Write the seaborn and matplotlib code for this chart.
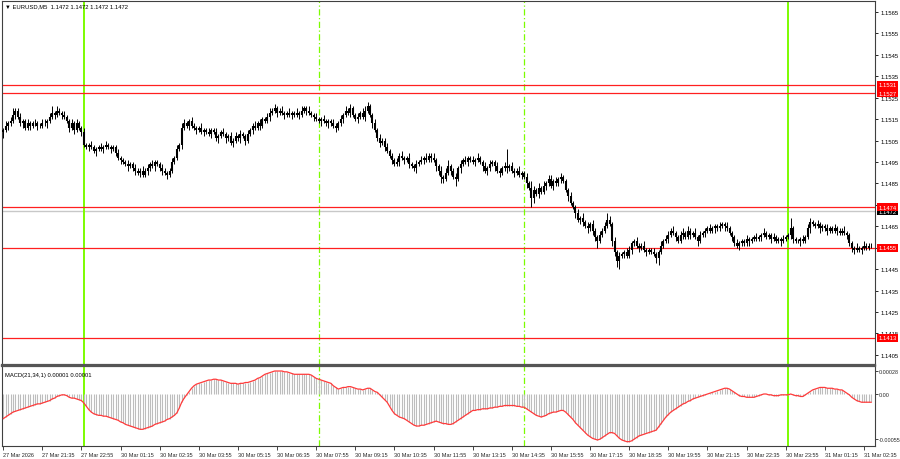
import numpy as np
import pandas as pd
import seaborn as sns
import matplotlib.pyplot as plt

# EURUSD M5 closes, in pips above 1.1400 (bar 0 = 27 Mar 20:15)
first_open = 109
closes = [
    110, 112, 113, 114, 117, 119, 116, 113, 114, 111, 113, 112, 113, 113, 112, 112, 113, 113, 114, 116,
    118, 117, 119, 118, 117, 116, 114, 111, 113, 110, 113, 111, 109,
    103, 102, 103, 102, 100, 101, 102, 101, 102, 103, 102, 101, 102,
    99, 97, 96, 95, 94, 93, 94, 92, 91, 90, 91,
    89, 91, 92, 94, 93, 95, 94, 92, 91, 90, 89, 91,
    95, 97, 101, 103,
    111, 113, 112, 114, 112, 111, 110, 111, 109, 110, 109, 108, 110, 109, 106, 107, 109, 108, 106, 107,
    104, 105, 107, 106, 108, 107, 105, 108,
    110, 112, 111, 113, 112, 115, 114, 116, 118,
    119, 120, 118, 119, 118, 117, 118, 117, 118, 117, 118, 117, 119, 120, 119, 118,
    117, 116, 115, 114, 115, 114, 113, 114, 113, 112, 111,
    113, 115, 117, 119, 118, 120, 117, 115, 116, 118, 116, 119, 121,
    117, 113, 110, 106, 104, 105, 102, 100, 98, 96, 94,
    95, 98, 97, 96, 97, 94, 93, 92, 94, 95, 96, 97, 96, 98, 97, 96, 93, 91,
    88, 87, 90, 93, 91, 88, 87,
    92, 94, 96, 95, 97, 96, 95, 96, 97, 95, 93, 91, 92, 94, 95, 93, 91, 90, 92, 93, 92,
    93, 91, 90, 91, 89, 90, 88,
    85, 83, 78, 82, 80, 83, 81, 84,
    85, 87, 84, 86, 85, 87, 88, 86,
    82, 79, 76, 74, 71, 68, 69,
    67, 65, 64, 66, 63, 60, 58, 61,
    63, 65, 68, 66,
    58, 53, 49, 51,
    52, 53, 51, 54, 57, 58, 56, 55, 56, 54, 53, 54, 53, 52, 50, 53,
    56, 58, 59, 61, 63, 62, 60, 58, 61, 62, 60, 63, 61, 62, 60, 58, 61,
    62, 63, 64, 63, 64, 65, 64, 65, 66, 65, 64, 62,
    60, 57, 56, 57,
    58, 57, 59, 58, 59, 60, 59, 60, 61, 62, 60, 61, 59, 60, 58, 59, 58, 59, 60, 61,
    64, 59, 58, 58, 59, 58, 60,
    64, 67, 66,
    65, 66, 64, 65, 64, 63, 64, 63, 64, 63, 62, 63, 62, 61,
    57, 55, 54, 55, 54, 55, 56, 55, 56, 56,
]
# upper / lower wick lengths in pips
wick_up = [
    1, 2, 1, 2, 3, 1, 1, 2, 1, 1, 2, 1, 1, 2, 1, 1, 2, 2, 1, 2,
    3, 1, 2, 1, 1, 2, 1, 1, 2, 1, 2, 1, 1, 2, 1, 1, 2, 1, 1, 1,
    2, 1, 2, 1, 1, 1, 1, 2, 1, 1, 1, 2, 1, 1, 2, 1, 1, 2, 1, 2,
    1, 2, 1, 1, 1, 2, 1, 1, 1, 2, 1, 2, 1, 2, 2, 1, 1, 2, 1, 1,
    1, 2, 1, 1, 2, 1, 1, 2, 1, 1, 2, 1, 1, 2, 1, 2, 1, 2, 1, 1,
    2, 1, 1, 2, 1, 2, 1, 1, 2, 2, 1, 2, 1, 1, 2, 1, 1, 2, 1, 1,
    2, 1, 2, 1, 1, 2, 1, 1, 2, 1, 1, 2, 1, 1, 1, 2, 1, 1, 2, 1,
    2, 1, 2, 1, 1, 2, 1, 2, 2, 2, 1, 1, 2, 1, 2, 1, 1, 2, 1, 1,
    1, 2, 1, 2, 1, 1, 2, 1, 1, 2, 1, 2, 1, 2, 1, 1, 2, 1, 1, 2,
    1, 2, 3, 1, 1, 2, 1, 2, 1, 2, 1, 1, 2, 1, 2, 1, 1, 2, 1, 2,
    1, 1, 2, 1, 1, 2, 8, 1, 2, 1, 1, 2, 1, 1, 2, 1, 3, 2, 1, 2,
    1, 2, 1, 2, 2, 1, 2, 1, 2, 1, 1, 1, 2, 1, 1, 2, 1, 2, 1, 2,
    1, 2, 1, 1, 2, 1, 2, 3, 2, 1, 2, 1, 2, 1, 1, 2, 2, 1, 1, 2,
    1, 1, 2, 1, 1, 1, 2, 1, 1, 2, 1, 2, 2, 1, 2, 1, 1, 2, 2, 1,
    2, 1, 1, 2, 1, 2, 1, 1, 1, 2, 1, 1, 1, 2, 1, 1, 2, 1, 1, 1,
    2, 1, 1, 1, 2, 1, 1, 1, 2, 1, 1, 2, 1, 1, 1, 2, 1, 1, 1, 2,
    1, 1, 5, 1, 1, 1, 1, 2, 1, 2, 2, 1, 1, 2, 1, 1, 1, 2, 1, 1,
    2, 1, 1, 1, 2, 1, 1, 1, 1, 2, 1, 1, 2, 1, 1, 1,
]
wick_dn = [
    3, 1, 2, 1, 1, 2, 1, 1, 2, 1, 1, 2, 1, 1, 2, 1, 1, 1, 2, 1,
    1, 2, 1, 1, 2, 1, 1, 2, 1, 2, 1, 1, 2, 1, 1, 2, 1, 1, 2, 1,
    1, 2, 1, 1, 2, 1, 1, 1, 2, 1, 1, 2, 1, 1, 2, 1, 2, 1, 1, 2,
    1, 1, 2, 1, 1, 2, 1, 2, 1, 1, 1, 1, 1, 2, 1, 1, 2, 1, 1, 2,
    1, 1, 2, 1, 1, 2, 1, 1, 2, 1, 1, 2, 1, 1, 2, 1, 1, 2, 1, 2,
    1, 1, 2, 1, 1, 2, 1, 1, 1, 2, 1, 1, 2, 1, 1, 2, 1, 1, 2, 1,
    1, 2, 1, 1, 2, 1, 1, 2, 1, 1, 2, 1, 1, 2, 1, 1, 2, 1, 1, 2,
    1, 1, 2, 1, 1, 2, 1, 1, 2, 1, 1, 2, 1, 1, 2, 1, 2, 1, 1, 2,
    1, 1, 2, 1, 2, 1, 2, 1, 1, 2, 1, 1, 2, 1, 1, 2, 1, 2, 2, 3,
    2, 1, 1, 2, 1, 3, 1, 2, 1, 1, 2, 1, 1, 2, 1, 1, 2, 1, 2, 1,
    1, 2, 1, 2, 1, 1, 2, 1, 1, 2, 1, 1, 2, 1, 2, 1, 4, 2, 1, 2,
    1, 1, 2, 1, 1, 2, 1, 1, 2, 1, 1, 2, 1, 1, 2, 1, 2, 2, 1, 2,
    1, 2, 2, 3, 1, 1, 1, 1, 1, 2, 2, 3, 4, 1, 2, 1, 1, 2, 1, 1,
    2, 1, 1, 2, 1, 1, 1, 2, 3, 1, 1, 1, 2, 1, 1, 2, 1, 1, 2, 1,
    1, 2, 1, 1, 2, 1, 1, 2, 1, 1, 1, 2, 1, 1, 1, 2, 1, 1, 2, 1,
    1, 2, 1, 1, 1, 2, 1, 1, 1, 1, 2, 1, 1, 1, 2, 1, 1, 1, 2, 1,
    1, 1, 2, 2, 1, 1, 2, 1, 1, 1, 2, 1, 1, 1, 2, 1, 1, 2, 1, 1,
    1, 2, 1, 1, 1, 2, 1, 2, 2, 1, 1, 2, 1, 1, 1, 1,
]
# MACD(21,34,1) main value per bar, in units of 0.00001
macd_vals = [
    -30, -28, -26, -24, -22, -21, -20, -19, -18, -17, -16, -15, -14, -13, -12, -12, -11, -10, -9, -8,
    -6, -5, -3, -2, -1, -1, -2, -4, -5, -5, -6, -7, -8,
    -11, -15, -19, -22, -24, -25, -26, -26, -27, -27, -28, -29, -30, -31, -32, -34, -35, -37, -38, -39,
    -40, -41, -42, -43,
    -43, -42, -41, -40, -39, -37, -36, -35, -34, -33, -31, -30, -28, -26, -23, -17,
    -10, -5, -1, 3, 7, 10, 12, 13, 14, 15, 16, 17,
    17, 18, 18, 17, 17, 16, 15, 14, 13, 13, 13, 12, 13, 13, 14, 14, 15, 16, 17, 19, 20,
    22, 24, 25, 26, 27, 28, 28, 28, 28, 27, 27, 26, 25, 24, 24, 24, 24, 24, 24, 24, 23, 21, 19,
    18, 17, 16, 15, 14, 13, 10, 8, 6, 7, 8, 8, 9, 9, 8, 7, 6, 6, 5, 6,
    7, 7, 5, 3, 2, -1, -4, -7, -10, -15, -20, -24,
    -26, -28, -29, -30, -32, -34, -36, -38, -39, -39, -38, -38, -37, -36, -35, -34, -33, -34, -35, -36,
    -36, -37, -37, -36, -34, -32, -30, -28, -26, -24, -22, -20,
    -20, -19, -19, -18, -18, -18, -17, -17, -16, -16, -15, -15, -14, -14, -14, -14, -14, -15, -15, -16, -16,
    -18, -20, -22, -24, -26, -27, -28, -27, -26, -24, -23, -22, -22, -21, -20, -20, -22, -25, -28, -31,
    -35, -38, -41,
    -44, -47, -50, -52, -54, -55, -56, -55, -53, -51, -49, -47, -47, -48, -51, -54, -56, -57, -58, -58,
    -57, -55, -53, -51,
    -50, -49, -48, -47, -46, -45, -44, -40, -36, -32, -28, -25, -22, -20, -18, -16, -14, -12, -11, -9,
    -8, -6, -5, -4, -3, -2, -1, 0, 1,
    2, 3, 4, 5, 6, 7, 7, 6, 4, 2, 0, -2, -3, -3, -4, -4, -4, -4, -3, -2,
    -1, 0, 0, -1, -1, -2, -2, -2, -1, -1, -1,
    -1, 0, -1, -2, -2, -3, -3, -1, 1, 3, 5, 6, 7, 8, 8, 8, 7, 7, 7, 6,
    6, 5, 5, 3, 1, -1, -4, -6, -8, -9, -10, -10, -10, -10, -10,
]
time_labels = [
    "27 Mar 2026", "27 Mar 21:35", "27 Mar 22:55", "30 Mar 01:15", "30 Mar 02:35",
    "30 Mar 03:55", "30 Mar 05:15", "30 Mar 06:35", "30 Mar 07:55", "30 Mar 09:15",
    "30 Mar 10:35", "30 Mar 11:55", "30 Mar 13:15", "30 Mar 14:35", "30 Mar 15:55",
    "30 Mar 17:15", "30 Mar 18:35", "30 Mar 19:55", "30 Mar 21:15", "30 Mar 22:35",
    "30 Mar 23:55", "31 Mar 01:15", "31 Mar 02:35",
]
levels = [1.1531, 1.1527, 1.1474, 1.1455, 1.1413]
ask_price = 1.1472
day_breaks = [33, 321]       # solid green separators (bar index)
session_marks = [129, 213]   # dash-dot green markers
price_ticks = [1.1405 + 0.001 * k for k in range(17)]
hidden_ticks = ["1.1475", "1.1455"]  # fully covered by level tags

n = len(closes)
assert len(wick_up) == n and len(wick_dn) == n and len(macd_vals) == n

df = pd.DataFrame({"bar": np.arange(n)})
df["close"] = 1.14 + np.array(closes) * 1e-4
df["open"] = df["close"].shift(1).fillna(1.14 + first_open * 1e-4)
df["high"] = df[["open", "close"]].max(axis=1) + np.array(wick_up) * 1e-4
df["low"] = df[["open", "close"]].min(axis=1) - np.array(wick_dn) * 1e-4
df["macd"] = np.array(macd_vals) * 1e-5

sns.set_theme(style="white")
plt.rcParams["font.family"] = ["Liberation Sans", "DejaVu Sans"]

W, H = 900, 460
fs = 4.2
fig = plt.figure(figsize=(9, 4.6), dpi=100)
ax = fig.add_axes([2 / W, 1 - 366 / H, 873 / W, 364 / H])
ax2 = fig.add_axes([2 / W, 1 - 447 / H, 873 / W, 80 / H], sharex=ax)

frame = "#404040"
for a in (ax, ax2):
    for s in a.spines.values():
        s.set_color(frame)
        s.set_linewidth(0.8)
# dark separator band between the two panes
ax.spines["bottom"].set_linewidth(1.6)
ax.spines["bottom"].set_color("#555555")
ax2.spines["top"].set_linewidth(1.6)
ax2.spines["top"].set_color("#555555")

# horizontal levels
ax.axhline(ask_price, color="#c8c8c8", lw=1.0, zorder=1)
for lvl in levels:
    ax.axhline(lvl, color="#ff2020", lw=0.9, zorder=2)

# green time markers across both panes
for a in (ax, ax2):
    for b in day_breaks:
        a.axvline(b, color="#7cfc00", lw=1.4, zorder=1)
    for b in session_marks:
        a.axvline(b, color="#7cfc00", lw=0.9, ls=(0, (5, 2, 1, 2)), zorder=1)

# candles
ax.vlines(df["bar"], df["low"], df["high"], color="black", lw=0.7, zorder=3)
ax.vlines(df["bar"], df["open"], df["close"], color="black", lw=1.5, zorder=3)

ax.set_xlim(-0.5, 356.5)
ax.set_ylim(1.14003, 1.15701)
ax.yaxis.tick_right()
ax.set_yticks(price_ticks)
tick_text = [f"{p:.4f}" for p in price_ticks]
ax.set_yticklabels(["" if t in hidden_ticks else t for t in tick_text])
ax.tick_params(axis="y", length=2.5, width=0.6, labelsize=fs, pad=1.5, colors="black")
ax.tick_params(axis="x", bottom=False, labelbottom=False)
ax.set_xlabel("")
ax.set_ylabel("")

tag_box = dict(boxstyle="square,pad=0.25", ec="none")
ax.annotate(f"{ask_price:.4f}", xy=(1, ask_price), xycoords=("axes fraction", "data"),
            xytext=(2.2, 0), textcoords="offset points", va="center", ha="left",
            fontsize=fs, color="white", bbox=dict(tag_box, fc="black"))
for lvl in levels:
    ax.annotate(f"{lvl:.4f}", xy=(1, lvl), xycoords=("axes fraction", "data"),
                xytext=(2.2, 0), textcoords="offset points", va="center", ha="left",
                fontsize=fs, color="white", bbox=dict(tag_box, fc="red"))

ax.text(0.003, 0.993, "\u25bc EURUSD,M5  1.1472 1.1472 1.1472 1.1472", transform=ax.transAxes,
        va="top", ha="left", fontsize=fs, color="black")

# MACD pane
ax2.vlines(df["bar"], 0, df["macd"], color="#bdbdbd", lw=0.8, zorder=2)
sns.lineplot(data=df, x="bar", y="macd", ax=ax2, color="#ff3b3b", lw=0.9, zorder=3)
ax2.set_ylim(-63.3e-5, 34.1e-5)
ax2.yaxis.tick_right()
ax2.set_yticks([0.00028, 0.0, -0.00055])
ax2.set_yticklabels(["0.00028", "0.00", "-0.00055"])
ax2.tick_params(axis="y", length=2, width=0.6, labelsize=3.9, pad=1)
ax2.set_xticks(range(0, 16 * len(time_labels), 16))
ax2.set_xticklabels(time_labels, ha="left")
ax2.tick_params(axis="x", length=3, width=0.6, labelsize=4.0, pad=1.5, bottom=True)
ax2.set_xlabel("")
ax2.set_ylabel("")
ax2.text(0.003, 0.93, "MACD(21,34,1) 0.00001 0.00001", transform=ax2.transAxes,
         va="top", ha="left", fontsize=fs, color="black")

fig.savefig("out.png", dpi=100, facecolor="white")
